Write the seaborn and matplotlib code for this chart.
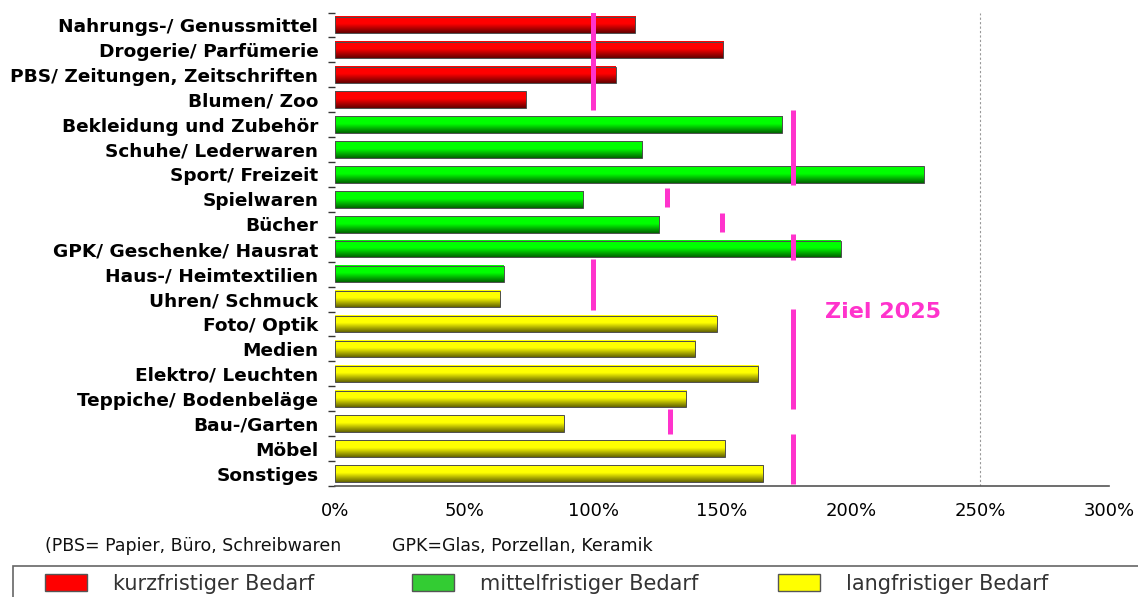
import numpy as np
import pandas as pd
import seaborn as sns
import matplotlib.pyplot as plt
from matplotlib.patches import Patch, Rectangle
from matplotlib.ticker import FixedLocator, PercentFormatter

sns.set_style("white")
plt.rcParams["font.family"] = ["DejaVu Sans"]

kategorien = [
    "Nahrungs-/ Genussmittel",
    "Drogerie/ Parfümerie",
    "PBS/ Zeitungen, Zeitschriften",
    "Blumen/ Zoo",
    "Bekleidung und Zubehör",
    "Schuhe/ Lederwaren",
    "Sport/ Freizeit",
    "Spielwaren",
    "Bücher",
    "GPK/ Geschenke/ Hausrat",
    "Haus-/ Heimtextilien",
    "Uhren/ Schmuck",
    "Foto/ Optik",
    "Medien",
    "Elektro/ Leuchten",
    "Teppiche/ Bodenbeläge",
    "Bau-/Garten",
    "Möbel",
    "Sonstiges",
]
bedarf = (["kurzfristiger Bedarf"] * 4
          + ["mittelfristiger Bedarf"] * 7
          + ["langfristiger Bedarf"] * 8)
anteil = [116.4, 150.5, 108.8, 73.9, 173.4, 119.0, 228.2, 96.2, 125.7, 196.0,
          65.4, 64.0, 148.0, 139.7, 164.0, 136.2, 88.6, 151.0, 166.0]

# Ziel 2025: Wert und erste/letzte Kategorie der Gruppe
ziel_wert = [100, 177.5, 128.8, 150, 177.5, 100, 177.5, 130, 177.5]
ziel_von = ["Nahrungs-/ Genussmittel", "Bekleidung und Zubehör", "Spielwaren",
            "Bücher", "GPK/ Geschenke/ Hausrat", "Haus-/ Heimtextilien",
            "Foto/ Optik", "Bau-/Garten", "Möbel"]
ziel_bis = ["Blumen/ Zoo", "Sport/ Freizeit", "Spielwaren", "Bücher",
            "GPK/ Geschenke/ Hausrat", "Uhren/ Schmuck",
            "Teppiche/ Bodenbeläge", "Bau-/Garten", "Sonstiges"]
ziel_kurz = [False, False, True, True, False, False, False, False, False]

x_ticks = [0, 50, 100, 150, 200, 250, 300]

farben = {
    "kurzfristiger Bedarf": "#FF0000",
    "mittelfristiger Bedarf": "#00FF00",
    "langfristiger Bedarf": "#FFFF00",
}
legend_farben = {
    "kurzfristiger Bedarf": "#FF0000",
    "mittelfristiger Bedarf": "#33CC33",
    "langfristiger Bedarf": "#FFFF00",
}
PINK = "#FF33CC"

df = pd.DataFrame({"kategorie": kategorien, "bedarf": bedarf, "anteil": anteil})

fig = plt.figure(figsize=(11.38, 5.97), dpi=100)
ax = fig.add_axes([335 / 1138, 1 - 486 / 597, 774 / 1138, 473.5 / 597])

sns.barplot(
    data=df, x="anteil", y="kategorie", hue="bedarf", palette=farben,
    saturation=1, dodge=False, width=0.66, orient="h", legend=False, ax=ax,
    edgecolor="#4d4d4d", linewidth=0.7,
)

# Farbverlauf in den Balken (oben hell, unten dunkel)
t = np.linspace(0, 1, 40)
shade = np.where(t < 0.45, 1.0, 1 - (t - 0.45) / 0.55 * 0.6)
for p in ax.patches:
    x0, y0, w, h = p.get_x(), p.get_y(), p.get_width(), p.get_height()
    if w <= 0:
        continue
    base = np.array(p.get_facecolor()[:3])
    img = (base[None, :] * shade[:, None])[:, None, :]
    ax.imshow(img, extent=(x0, x0 + w, y0 + h, y0), aspect="auto",
              origin="upper", zorder=2, interpolation="bilinear")
    p.set_facecolor("none")
    p.set_zorder(3)

ax.set_xlim(0, 300)
ax.set_ylim(len(kategorien) - 0.5, -0.5)

ax.axvline(250, color="#999999", linestyle=(0, (2, 2)), linewidth=0.8, zorder=1)

# Ziel-Linien
pos = {k: i for i, k in enumerate(kategorien)}
for wert, von, bis, kurz in zip(ziel_wert, ziel_von, ziel_bis, ziel_kurz):
    i0, i1 = pos[von], pos[bis]
    if kurz:
        lo, hi = i0 - 0.47, i1 + 0.3
    else:
        lo, hi = i0 - 0.6, i1 + 0.42
    ax.vlines(wert, lo, hi, color=PINK, linewidth=3.6, zorder=4)

ax.text(190, 11.5, "Ziel 2025", color=PINK, fontsize=16, fontweight="bold",
        va="center", ha="left")

ax.set_xticks(x_ticks)
ax.xaxis.set_major_formatter(PercentFormatter(decimals=0))
ax.set_xlabel("")
ax.set_ylabel("")

sns.despine(ax=ax, left=True, top=True, right=True)
ax.spines["bottom"].set_color("#555555")
ax.spines["bottom"].set_linewidth(1.2)
ax.tick_params(axis="x", direction="inout", length=7, width=1.2,
               color="#555555", labelsize=13, pad=8, labelcolor="black")
ax.tick_params(axis="y", which="major", length=0, pad=12, labelsize=13.3,
               labelcolor="black")
for lbl in ax.get_yticklabels():
    lbl.set_fontweight("bold")
ax.yaxis.set_minor_locator(FixedLocator(np.arange(-0.5, len(kategorien), 1)))
ax.tick_params(axis="y", which="minor", left=True, length=5, width=1,
               color="#333333")

# Fußnote
fig.text(45 / 1138, 1 - 546 / 597, "(PBS= Papier, Büro, Schreibwaren",
         fontsize=12.5, va="center", color="#111111")
fig.text(392 / 1138, 1 - 546 / 597, "GPK=Glas, Porzellan, Keramik",
         fontsize=12.5, va="center", color="#111111")

# Legende
fig.add_artist(Rectangle((12.5 / 1138, -0.05), 1.1, (1 - 565.5 / 597) + 0.05,
                         transform=fig.transFigure, fill=False,
                         edgecolor="#666666", linewidth=1.2))
for label, x in zip(legend_farben, [45, 412, 778]):
    fig.legend(
        handles=[Patch(facecolor=legend_farben[label], edgecolor="#555555",
                       linewidth=1)],
        labels=[label], loc="center left",
        bbox_to_anchor=(x / 1138, 1 - 584 / 597), frameon=False,
        fontsize=15, handlelength=2.0, handleheight=0.9,
        handletextpad=1.25, borderpad=0, borderaxespad=0, labelcolor="#333333",
    )

fig.savefig("out.png", dpi=100)
